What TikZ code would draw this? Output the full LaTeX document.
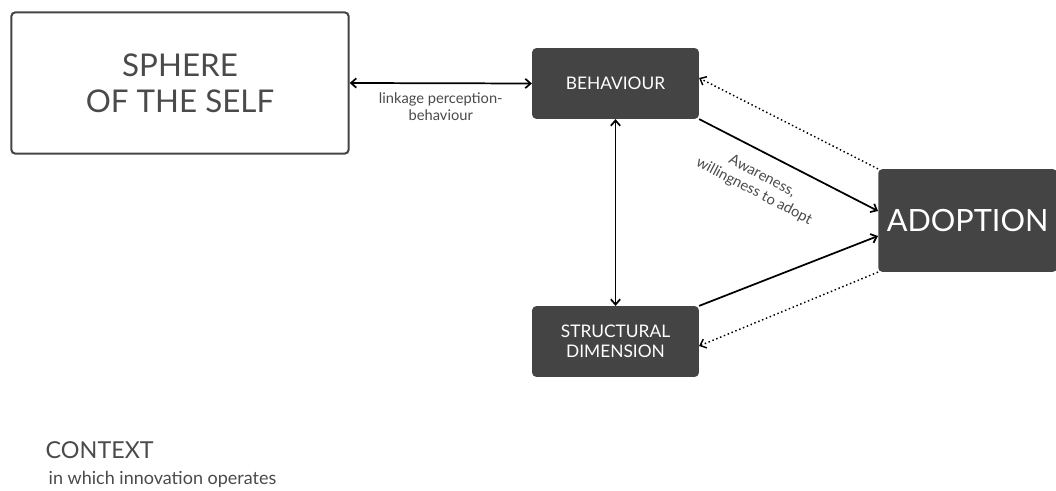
\documentclass[tikz,border=0pt]{standalone}
\usepackage{fontspec}
\setmainfont{Lato}
\usetikzlibrary{arrows.meta,shapes}
\definecolor{boxgrey}{HTML}{444444}
\definecolor{textgrey}{HTML}{4A4A4A}
\tikzstyle{selfbox}  = [rectangle, draw=boxgrey, line width=1.5pt, rounded corners=3pt, minimum width=253pt, minimum height=106pt, align=center, text=textgrey, font=\fontsize{23.5}{27}\selectfont]
\tikzstyle{darkbox}  = [rectangle, fill=boxgrey, rounded corners=3pt, minimum width=125pt, minimum height=53pt, align=center, text=white, font=\fontsize{13}{15}\selectfont]
\tikzstyle{bigdark}  = [rectangle, fill=boxgrey, rounded corners=3pt, minimum width=134pt, minimum height=77pt, text=white, font=\fontsize{23}{26}\selectfont]
\tikzstyle{line}     = [draw, line width=1.3pt, -{Straight Barb[length=4pt,width=7pt]}]
\tikzstyle{both}     = [draw, line width=1.3pt, {Straight Barb[length=4pt,width=7pt]}-{Straight Barb[length=4pt,width=7pt]}]
\tikzstyle{back}     = [draw, line width=1.1pt, dotted, -{Straight Barb[length=4pt,width=7pt]}]
\tikzstyle{lbl}      = [text=textgrey, font=\fontsize{11}{13}\selectfont, align=center]

\begin{document}
\begin{tikzpicture}[x=0.75pt, y=-0.75pt]
        \useasboundingbox (0,0) rectangle (1056,491);
        \node [selfbox] (sphere) at (180,83) {SPHERE\\OF THE SELF};
        \node [darkbox] (behaviour) at (615.5,83.5) {BEHAVIOUR};
        \node [darkbox] (structural) at (615.5,341.5) {STRUCTURAL\\DIMENSION};
        \node [bigdark, anchor=west] (adoption) at (878,220.5) {ADOPTION};
        \node [text=textgrey, anchor=west, font=\fontsize{17.5}{20}\selectfont] (context) at (41,450) {CONTEXT};
        \node [text=textgrey, anchor=west, font=\fontsize{13.5}{16}\selectfont] (operates) at (44,479) {in which innovation operates};

        \path [both] (sphere.east) -- (behaviour.west) node [lbl, midway, below=3pt] {linkage perception-\\behaviour};
        \path [both] (behaviour.south) -- (structural.north);
        \path [line] (behaviour.south east) -- (adoption.west |- 0,211);
        \path [line] (structural.north east) -- (adoption.west |- 0,236);
        \path [back] (adoption.north west) -- (behaviour.east |- 0,78);
        \path [back] (adoption.south west) -- (structural.east |- 0,346);
        \node [lbl, rotate=-27.5] (aware) at (758,184) {Awareness,\\willingness to adopt};
      \end{tikzpicture}
\end{document}
